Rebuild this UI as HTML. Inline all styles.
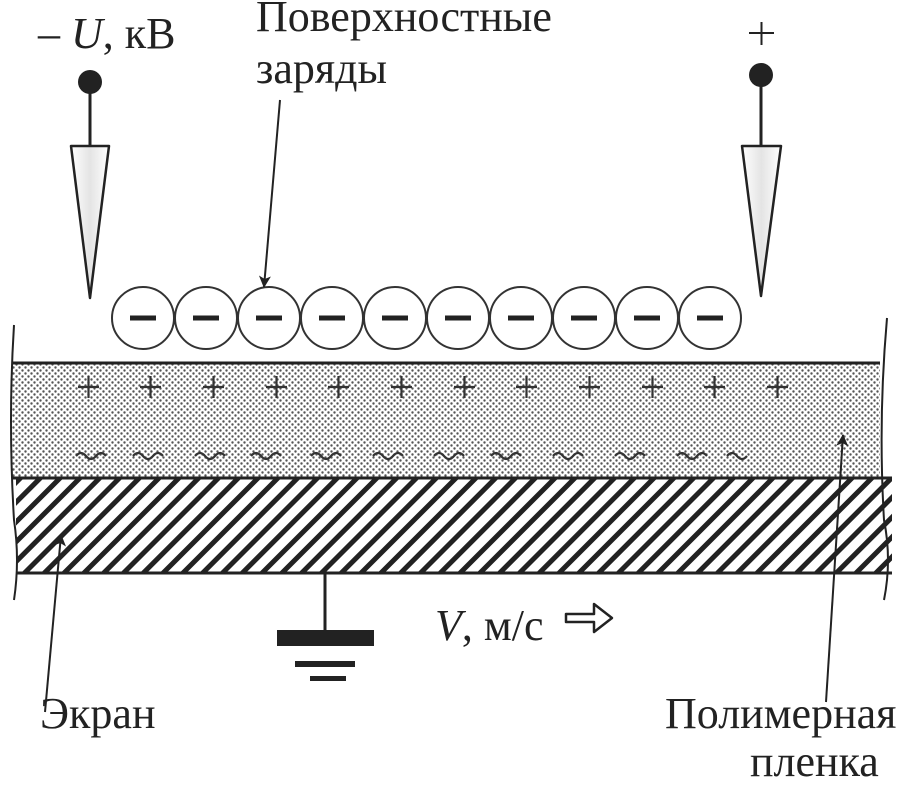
<!DOCTYPE html>
<html><head><meta charset="utf-8"><style>
html,body{margin:0;padding:0;background:#fff;}
svg{display:block;}
text{font-family:"Liberation Serif","DejaVu Serif",serif;fill:#222;}
</style></head><body>
<svg width="904" height="789" viewBox="0 0 904 789" xmlns="http://www.w3.org/2000/svg">
<defs>
<pattern id="dots" width="6" height="6" patternUnits="userSpaceOnUse">
<rect width="6" height="6" fill="#fff"/>
<circle cx="1.5" cy="1.5" r="1.2" fill="#555"/>
<circle cx="4.5" cy="4.5" r="1.2" fill="#555"/>
</pattern>
<pattern id="hatch" width="14" height="14" patternUnits="userSpaceOnUse" patternTransform="rotate(45)">
<rect width="14" height="14" fill="#fff"/>
<rect x="0" y="0" width="5" height="14" fill="#222"/>
</pattern>
<linearGradient id="cone" x1="0" y1="0" x2="1" y2="0">
<stop offset="0" stop-color="#fff"/><stop offset="0.5" stop-color="#e4e4e4"/><stop offset="1" stop-color="#fff"/>
</linearGradient>
<marker id="ah" markerWidth="12" markerHeight="12" refX="11" refY="6" orient="auto" markerUnits="userSpaceOnUse">
<path d="M0,0 L12,6 L0,12 L3,6 Z" fill="#222"/>
</marker>
</defs>

<rect x="12" y="363" width="868" height="115" fill="url(#dots)"/>
<rect x="16" y="478" width="876" height="95" fill="url(#hatch)"/>
<line x1="12" y1="363" x2="880" y2="363" stroke="#222" stroke-width="3"/>
<line x1="12" y1="478" x2="892" y2="478" stroke="#222" stroke-width="3"/>
<line x1="16" y1="573" x2="892" y2="573" stroke="#222" stroke-width="3"/>
<path d="M14,325 Q8,420 14,520 Q20,560 14,600" fill="none" stroke="#222" stroke-width="2"/>
<path d="M887,318 Q878,420 884,520 Q892,560 884,600" fill="none" stroke="#222" stroke-width="2"/>

<g stroke="#333" stroke-width="2.2">
<path d="M78,387h21M88.5,376v22 M140,387h21M150.5,376v22 M203,387h21M213.5,376v22 M266,387h21M276.5,376v22 M328,387h21M338.5,376v22 M391,387h21M401.5,376v22 M454,387h21M464.5,376v22 M516,387h21M526.5,376v22 M579,387h21M589.5,376v22 M642,387h21M652.5,376v22 M704,387h21M714.5,376v22 M767,387h21M777.5,376v22"/>
</g>
<g fill="none" stroke="#333" stroke-width="2.2">
<path d="M76,456 q5,-6 10,0 t10,0 t10,0"/>
<path d="M133,456 q5,-6 10,0 t10,0 t10,0"/>
<path d="M195,456 q5,-6 10,0 t10,0 t10,0"/>
<path d="M251,456 q5,-6 10,0 t10,0 t10,0"/>
<path d="M311,456 q5,-6 10,0 t10,0 t10,0"/>
<path d="M373,456 q5,-6 10,0 t10,0 t10,0"/>
<path d="M434,456 q5,-6 10,0 t10,0 t10,0"/>
<path d="M491,456 q5,-6 10,0 t10,0 t10,0"/>
<path d="M553,456 q5,-6 10,0 t10,0 t10,0"/>
<path d="M615,456 q5,-6 10,0 t10,0 t10,0"/>
<path d="M677,456 q5,-6 10,0 t10,0 t10,0"/>
<path d="M727,456 q5,-6 10,0 t10,0"/>
</g>

<g fill="#fff" stroke="#333" stroke-width="2">
<circle cx="143" cy="318" r="31"/><circle cx="206" cy="318" r="31"/><circle cx="269" cy="318" r="31"/><circle cx="332" cy="318" r="31"/><circle cx="395" cy="318" r="31"/><circle cx="458" cy="318" r="31"/><circle cx="521" cy="318" r="31"/><circle cx="584" cy="318" r="31"/><circle cx="647" cy="318" r="31"/><circle cx="710" cy="318" r="31"/>
</g>
<g stroke="#222" stroke-width="5">
<path d="M130,318h26 M193,318h26 M256,318h26 M319,318h26 M382,318h26 M445,318h26 M508,318h26 M571,318h26 M634,318h26 M697,318h26"/>
</g>

<circle cx="90" cy="82" r="12" fill="#222"/>
<line x1="90" y1="82" x2="90" y2="146" stroke="#222" stroke-width="3"/>
<path d="M71,146 L109,146 L90,298 Z" fill="url(#cone)" stroke="#222" stroke-width="2.5" stroke-linejoin="round"/>
<circle cx="761" cy="75" r="12" fill="#222"/>
<line x1="761" y1="75" x2="761" y2="146" stroke="#222" stroke-width="3"/>
<path d="M742,146 L781,146 L761,296 Z" fill="url(#cone)" stroke="#222" stroke-width="2.5" stroke-linejoin="round"/>
<path d="M749,33h25M761.5,22v23" stroke="#222" stroke-width="2"/>

<line x1="325" y1="573" x2="325" y2="632" stroke="#222" stroke-width="3"/>
<rect x="277" y="630" width="97" height="16" fill="#222"/>
<rect x="295" y="661" width="60" height="6" fill="#222"/>
<rect x="310" y="676" width="36" height="5" fill="#222"/>

<line x1="280" y1="100" x2="264" y2="287" stroke="#222" stroke-width="2" marker-end="url(#ah)"/>
<line x1="45" y1="712" x2="61" y2="535" stroke="#222" stroke-width="2" marker-end="url(#ah)"/>
<line x1="826" y1="702" x2="843" y2="435" stroke="#222" stroke-width="2" marker-end="url(#ah)"/>

<path d="M566,614 h28 v-10 l18,14 l-18,14 v-10 h-28 z" fill="#fff" stroke="#222" stroke-width="2.5" stroke-linejoin="round"/>

<text x="38" y="48" font-size="44">– <tspan font-style="italic">U</tspan>, кВ</text>
<text x="256" y="31" font-size="44">Поверхностные</text>
<text x="256" y="83" font-size="44">заряды</text>
<text x="435" y="640" font-size="44"><tspan font-style="italic">V</tspan>, м/с</text>
<text x="40" y="728" font-size="44">Экран</text>
<text x="665" y="728" font-size="44">Полимерная</text>
<text x="750" y="776" font-size="44">пленка</text>
</svg>
</body></html>
